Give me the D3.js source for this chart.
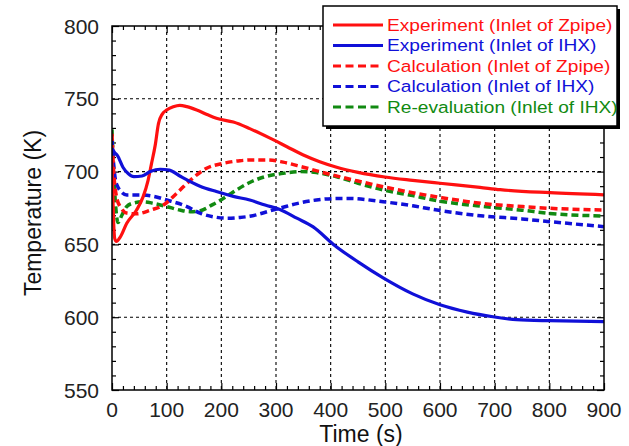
<!DOCTYPE html>
<html>
<head>
<meta charset="utf-8">
<script src="https://cdn.jsdelivr.net/npm/d3@7"></script>
<style>
  html, body { margin: 0; padding: 0; background: #fff; }
  svg { display: block; font-family: "Liberation Sans", Arial, sans-serif; }
</style>
</head>
<body>
<svg id="chart" width="629" height="446"></svg>
<script>
// Temperature transients at the Zpipe and IHX inlets: time (s), temperature (K)
const expZpipeTime = [0, 1, 3, 5, 8, 15, 27, 45, 57, 66, 72, 79, 85, 92, 100, 112, 124, 137, 155, 175, 191, 222, 252, 289, 320, 350, 380, 411, 450, 499, 550, 600, 673, 710, 801, 900];
const expZpipeTemp = [706, 690, 665, 654, 652, 655, 664.5, 673.6, 682.8, 694, 705, 718, 733, 739.5, 742.3, 744.5, 745.5, 744.6, 742.3, 739, 736.6, 734, 729.5, 723, 717.1, 711.4, 706.8, 703, 699.5, 696.3, 694, 692, 689.2, 687.6, 685.5, 684];

const expIhxTime = [0, 5, 10, 20, 30, 40, 55, 70, 88, 105, 124, 161, 191, 222, 252, 280, 307, 338, 368, 405, 450, 496, 550, 600, 650, 697, 740, 800, 850, 900];
const expIhxTemp = [716, 713, 711, 703, 698.5, 696.5, 697, 700, 701.6, 701, 697, 690, 686.3, 683, 680.5, 677, 674, 668, 662, 650, 638, 627, 616, 608.5, 603.5, 600.3, 598.3, 597.6, 597.3, 597];

const calcZpipeTime = [0, 3, 6, 10, 15, 27, 45, 70, 94, 118, 143, 173, 204, 234, 260, 285, 313, 350, 400, 450, 496, 550, 600, 680, 750, 800, 900];
const calcZpipeTemp = [726, 700, 688, 680, 676, 671.5, 671, 673.5, 677, 685, 694, 702.3, 705.7, 707.5, 708, 708, 706.5, 703, 698, 693.5, 689.6, 685.5, 682.3, 678, 676, 674.8, 673.6];

const calcIhxTime = [0, 3, 6, 10, 15, 27, 50, 76, 100, 137, 161, 185, 210, 234, 252, 289, 313, 338, 374, 410, 435, 496, 550, 588, 679, 750, 801, 900];
const calcIhxTemp = [722, 705, 695, 690, 687, 684, 684, 683, 680.5, 676, 671.5, 669, 668, 668.5, 669.3, 673, 675.5, 678, 680.5, 681.5, 681.5, 679.3, 676.5, 674, 669.5, 667.5, 665.6, 662.2];

const reevalTime = [0, 3, 6, 11, 18, 27, 40, 57, 76, 100, 124, 143, 160, 185, 210, 228, 252, 280, 313, 345, 374, 411, 450, 496, 550, 588, 680, 750, 800, 900];
const reevalTemp = [729, 700, 680, 665, 670, 676, 678.5, 679.3, 678.2, 676, 673.6, 672.5, 673, 677.5, 683, 687.4, 692.5, 696.5, 698.8, 700, 699.3, 696.5, 692, 687.4, 683.5, 680.5, 676, 673.5, 671.3, 669.5];

const seriesNames = [
  "Experiment (Inlet of Zpipe)",
  "Experiment (Inlet of IHX)",
  "Calculation (Inlet of Zpipe)",
  "Calculation (Inlet of IHX)",
  "Re-evaluation (Inlet of IHX)"
];
const seriesColors = ["#ff1010", "#1010d8", "#ff1010", "#1010d8", "#118a11"];
const seriesDashed = [false, false, true, true, true];
const seriesTimes = [expZpipeTime, expIhxTime, calcZpipeTime, calcIhxTime, reevalTime];
const seriesTemps = [expZpipeTemp, expIhxTemp, calcZpipeTemp, calcIhxTemp, reevalTemp];

const xTicks = [0, 100, 200, 300, 400, 500, 600, 700, 800, 900];
const yTicks = [550, 600, 650, 700, 750, 800];

const svg = d3.select("#chart");
const plot = { left: 112, right: 604, top: 26, bottom: 390 };

const x = d3.scaleLinear().domain([0, 900]).range([plot.left, plot.right]);
const y = d3.scaleLinear().domain([550, 800]).range([plot.bottom, plot.top]);

// dotted grid at the major ticks
const grid = svg.append("g");
grid.selectAll(".gx").data(xTicks.slice(1, -1)).join("line")
  .attr("x1", d => x(d)).attr("x2", d => x(d))
  .attr("y1", plot.top).attr("y2", plot.bottom)
  .attr("stroke", "#000").attr("stroke-width", 1.1).attr("stroke-dasharray", "3,3");
grid.selectAll(".gy").data(yTicks.slice(1, -1)).join("line")
  .attr("x1", plot.left).attr("x2", plot.right)
  .attr("y1", d => y(d)).attr("y2", d => y(d))
  .attr("stroke", "#000").attr("stroke-width", 1.1).attr("stroke-dasharray", "3,3");

// inward ticks on all four sides
const xMinor = d3.range(0, 901, 20);
const yMinor = d3.range(550, 801, 10);
function tickLen(isMajor) { return isMajor ? 7 : 4; }

const axisG = svg.append("g");

const bottomAxis = d3.axisBottom(x).tickValues(xMinor)
  .tickSizeInner(0).tickSizeOuter(0).tickFormat(() => "");
axisG.append("g").attr("transform", `translate(0,${plot.bottom})`).call(bottomAxis)
  .call(g => g.select(".domain").remove())
  .call(g => g.selectAll(".tick line")
    .attr("y2", d => -tickLen(d % 100 === 0)).attr("stroke", "#000").attr("stroke-width", 1.2));

const topAxis = d3.axisTop(x).tickValues(xMinor)
  .tickSizeInner(0).tickSizeOuter(0).tickFormat(() => "");
axisG.append("g").attr("transform", `translate(0,${plot.top})`).call(topAxis)
  .call(g => g.select(".domain").remove())
  .call(g => g.selectAll(".tick line")
    .attr("y2", d => tickLen(d % 100 === 0)).attr("stroke", "#000").attr("stroke-width", 1.2));

const leftAxis = d3.axisLeft(y).tickValues(yMinor)
  .tickSizeInner(0).tickSizeOuter(0).tickFormat(() => "");
axisG.append("g").attr("transform", `translate(${plot.left},0)`).call(leftAxis)
  .call(g => g.select(".domain").remove())
  .call(g => g.selectAll(".tick line")
    .attr("x2", d => tickLen(d % 50 === 0)).attr("stroke", "#000").attr("stroke-width", 1.2));

const rightAxis = d3.axisRight(y).tickValues(yMinor)
  .tickSizeInner(0).tickSizeOuter(0).tickFormat(() => "");
axisG.append("g").attr("transform", `translate(${plot.right},0)`).call(rightAxis)
  .call(g => g.select(".domain").remove())
  .call(g => g.selectAll(".tick line")
    .attr("x2", d => -tickLen(d % 50 === 0)).attr("stroke", "#000").attr("stroke-width", 1.2));

// tick labels
svg.append("g").selectAll("text").data(xTicks).join("text")
  .attr("x", d => x(d)).attr("y", plot.bottom + 27)
  .attr("text-anchor", "middle").attr("font-size", 21).attr("fill", "#222")
  .text(d => d);
svg.append("g").selectAll("text").data(yTicks).join("text")
  .attr("x", plot.left - 13).attr("y", d => y(d) + 7.5)
  .attr("text-anchor", "end").attr("font-size", 21).attr("fill", "#222")
  .text(d => d);

// axis titles
svg.append("text").attr("x", 361).attr("y", 442)
  .attr("text-anchor", "middle").attr("font-size", 23).attr("fill", "#111")
  .text("Time (s)");
svg.append("text")
  .attr("transform", "translate(41,213) rotate(-90)")
  .attr("text-anchor", "middle").attr("font-size", 23).attr("fill", "#111")
  .text("Temperature (K)");

// curves
svg.append("clipPath").attr("id", "plotClip")
  .append("rect").attr("x", plot.left).attr("y", plot.top)
  .attr("width", plot.right - plot.left).attr("height", plot.bottom - plot.top);

const line = d3.line().x(d => x(d[0])).y(d => y(d[1])).curve(d3.curveMonotoneX);
const curves = svg.append("g").attr("clip-path", "url(#plotClip)");
// calculated curves first, experiments on top
[4, 3, 2, 0, 1].forEach(i => {
  const pts = seriesTimes[i].map((t, k) => [t, seriesTemps[i][k]]);
  curves.append("path").datum(pts)
    .attr("d", line)
    .attr("fill", "none")
    .attr("stroke", seriesColors[i])
    .attr("stroke-width", seriesDashed[i] ? 3.5 : 3.2)
    .attr("stroke-dasharray", seriesDashed[i] ? "7,4" : null)
    .attr("stroke-linejoin", "round");
});

// plot frame
svg.append("rect").attr("x", plot.left).attr("y", plot.top)
  .attr("width", plot.right - plot.left).attr("height", plot.bottom - plot.top)
  .attr("fill", "none").attr("stroke", "#000").attr("stroke-width", 1.5);

// legend with drop shadow
const lg = { x: 323, y: 6, w: 294, h: 120 };
svg.append("rect").attr("x", lg.x + 3).attr("y", lg.y + 3)
  .attr("width", lg.w).attr("height", lg.h).attr("fill", "#000");
svg.append("rect").attr("x", lg.x).attr("y", lg.y)
  .attr("width", lg.w).attr("height", lg.h)
  .attr("fill", "#fff").attr("stroke", "#000").attr("stroke-width", 1.5);

const rowY = d3.scalePoint().domain(d3.range(seriesNames.length)).range([lg.y + 19, lg.y + 101]);
const legendRows = svg.append("g").selectAll("g").data(seriesNames).join("g")
  .attr("transform", (d, i) => `translate(0,${rowY(i)})`);
legendRows.append("line")
  .attr("x1", 333).attr("x2", 383).attr("y1", 0).attr("y2", 0)
  .attr("stroke", (d, i) => seriesColors[i])
  .attr("stroke-width", 3.2)
  .attr("stroke-dasharray", (d, i) => seriesDashed[i] ? "8,4.5" : null);
// legend labels are set in a wide face: stretch horizontally from the left edge
legendRows.append("text")
  .attr("transform", "translate(387,5.8) scale(1.16,1)")
  .attr("font-size", 16.5)
  .attr("fill", (d, i) => seriesColors[i])
  .text(d => d);
</script>
</body>
</html>
